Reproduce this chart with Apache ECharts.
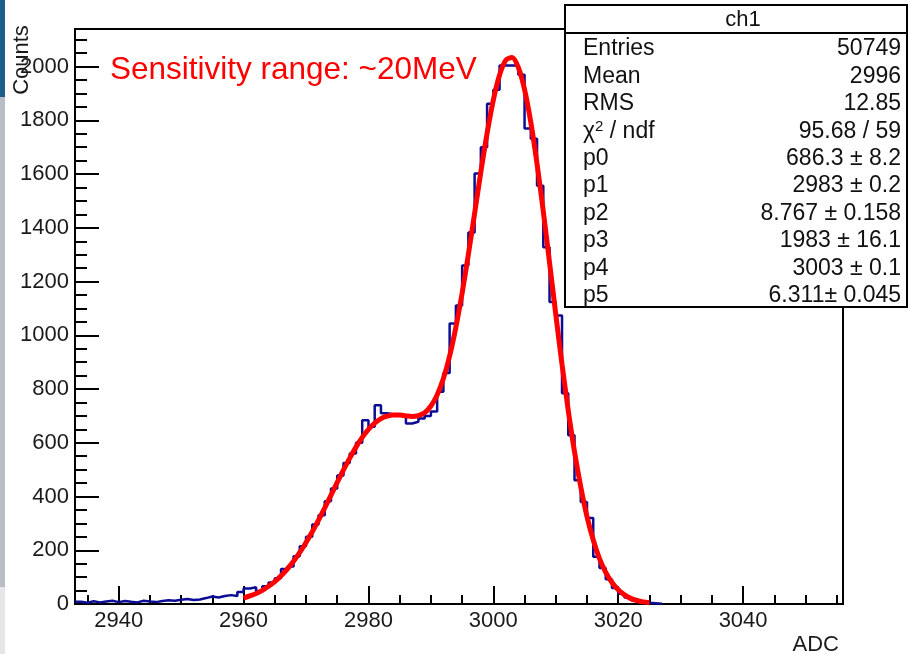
<!DOCTYPE html>
<html>
<head>
<meta charset="utf-8">
<script src="https://cdn.jsdelivr.net/npm/echarts@6/dist/echarts.min.js"></script>
<style>
  html, body { margin: 0; padding: 0; background: #fff; }
  #chart { width: 910px; height: 654px; }
</style>
</head>
<body>
<div id="chart"></div>
<script>
// histogram ch1, 1 ADC per bin, first bin starts at 2933
const binStart = 2933;
const counts = [
  8, 5, 10, 6, 9, 12, 7, 11, 8, 6, 12, 9, 7, 11, 14, 12, 16, 19, 15, 17, 22, 28, 24, 30, 33, 30, 45,
  58, 62, 48, 66, 80, 96, 130, 140, 178, 215,
  250, 296, 330, 382, 430, 478, 525, 560, 600, 684,
  660, 740, 710, 706, 704, 702, 672, 678, 690, 700,
  716, 790, 860, 1044, 1111, 1260, 1383, 1602, 1700, 1862,
  1914, 2004, 2004, 2004, 1970, 1770, 1732, 1557, 1328, 1124,
  1074, 784, 628, 461, 380, 320, 176, 134, 92, 60,
  38, 24, 14, 9, 5, 3, 1
];

// fit curve, one point per ADC from 2960
const fitStart = 2960;
const fitValues = [
  22, 30, 39, 51, 66, 83, 105, 130, 159, 192,
  229, 269, 312, 358, 405, 453, 499, 543, 584, 620,
  650, 673, 690, 699, 703, 703, 700, 698, 701, 712,
  737, 778, 839, 923, 1030, 1157, 1301, 1454, 1608, 1752,
  1876, 1969, 2024, 2034, 1997, 1915, 1793, 1638, 1461, 1271,
  1078, 892, 720, 567, 436, 325, 238, 169, 118, 80,
  53, 34, 21, 13, 8, 5
];

const xMajor = [2940, 2960, 2980, 3000, 3020, 3040];
const yMajor = [0, 200, 400, 600, 800, 1000, 1200, 1400, 1600, 1800, 2000];

const statNames = ['Entries', 'Mean', 'RMS', '{n|χ}{sup|2}{n| / ndf}', 'p0', 'p1', 'p2', 'p3', 'p4', 'p5'];
const statValues = ['50749', '2996', '12.85', '95.68 / 59', '686.3 ± 8.2', '2983 ± 0.2',
  '8.767 ± 0.158', '1983 ± 16.1', '3003 ± 0.1', '6.311± 0.045'];

const font = '"Liberation Sans", Arial, sans-serif';

const xMinor = [];
for (let v = 2935; v <= 3055; v += 5) xMinor.push(v);
const yMinor = [];
for (let v = 0; v <= 2100; v += 50) yMinor.push(v);

const histData = counts.map((c, i) => [binStart + i, c]);
histData.push([binStart + counts.length, 0]);
const fitData = fitValues.map((v, i) => [fitStart + i, v]);

const chart = echarts.init(document.getElementById('chart'));

const statText = [];
statNames.forEach((name, i) => {
  const y = 49 + i * 27.4;
  statText.push({
    type: 'text', x: 583, y: y, z: 101,
    style: {
      text: name, font: '23px ' + font, fill: '#111', verticalAlign: 'middle',
      rich: { n: { fontSize: 23, fontFamily: font }, sup: { fontSize: 15, fontFamily: font, verticalAlign: 'top', padding: [0, 0, 8, 0] } }
    }
  });
  statText.push({
    type: 'text', x: 901, y: y, z: 101,
    style: { text: statValues[i], font: '23px ' + font, fill: '#111', align: 'right', verticalAlign: 'middle' }
  });
});

chart.setOption({
  animation: false,
  backgroundColor: '#fff',
  title: {
    text: 'Sensitivity range: ~20MeV',
    left: 105, top: 49,
    textStyle: { color: '#ff0000', fontSize: 31.5, fontWeight: 'normal', fontFamily: font }
  },
  grid: {
    left: 75, top: 29, width: 768, height: 575,
    show: true, borderColor: '#000', borderWidth: 2, backgroundColor: 'transparent'
  },
  xAxis: [
    {
      type: 'value', min: binStart, max: 3056,
      splitLine: { show: false },
      axisLine: { show: true, lineStyle: { color: '#000', width: 2 } },
      axisTick: { show: true, inside: true, length: 18, customValues: xMajor, lineStyle: { color: '#000', width: 2 } },
      axisLabel: { customValues: xMajor, formatter: v => String(v), fontSize: 22, fontFamily: font, color: '#1a1a1a', margin: 6 }
    },
    {
      type: 'value', min: binStart, max: 3056, position: 'bottom',
      splitLine: { show: false },
      axisLine: { show: false },
      axisTick: { show: true, inside: true, length: 9, customValues: xMinor, lineStyle: { color: '#000', width: 2 } },
      axisLabel: { show: false }
    }
  ],
  yAxis: [
    {
      type: 'value', min: 0, max: 2140,
      splitLine: { show: false },
      axisLine: { show: true, lineStyle: { color: '#000', width: 2 } },
      axisTick: { show: true, inside: true, length: 24, customValues: yMajor, lineStyle: { color: '#000', width: 2 } },
      axisLabel: { customValues: yMajor, formatter: v => String(v), fontSize: 22, fontFamily: font, color: '#1a1a1a', margin: 6 }
    },
    {
      type: 'value', min: 0, max: 2140, position: 'left',
      splitLine: { show: false },
      axisLine: { show: false },
      axisTick: { show: true, inside: true, length: 12, customValues: yMinor, lineStyle: { color: '#000', width: 2 } },
      axisLabel: { show: false }
    }
  ],
  series: [
    {
      type: 'line', name: 'ch1', step: 'end', data: histData,
      symbol: 'none', xAxisIndex: 0, yAxisIndex: 0,
      lineStyle: { color: '#0c0c94', width: 2.5 }, z: 3
    },
    {
      type: 'line', name: 'fit', data: fitData, smooth: 0.3,
      symbol: 'none', xAxisIndex: 0, yAxisIndex: 0,
      lineStyle: { color: '#ff0000', width: 5 }, z: 4
    }
  ],
  graphic: [
    { type: 'rect', shape: { x: 0, y: 0, width: 5, height: 97 }, style: { fill: '#1b5e8a' } },
    { type: 'rect', shape: { x: 0, y: 97, width: 5, height: 490 }, style: { fill: '#b8bcc4' } },
    { type: 'rect', shape: { x: 0, y: 587, width: 5, height: 67 }, style: { fill: '#e6e6e8' } },
    {
      type: 'text', x: 22, y: 60, rotation: Math.PI / 2,
      style: { text: 'Counts', font: '22px ' + font, fill: '#1a1a1a', align: 'center', verticalAlign: 'middle' }
    },
    {
      type: 'text', x: 839, y: 645,
      style: { text: 'ADC', font: '22px ' + font, fill: '#1a1a1a', align: 'right', verticalAlign: 'middle' }
    },
    {
      type: 'rect', z: 100, shape: { x: 565, y: 5, width: 342, height: 302 },
      style: { fill: '#fff', stroke: '#000', lineWidth: 2 }
    },
    { type: 'line', z: 101, shape: { x1: 565, y1: 33, x2: 907, y2: 33 }, style: { stroke: '#000', lineWidth: 2 } },
    {
      type: 'text', x: 743, y: 20, z: 101,
      style: { text: 'ch1', font: '22px ' + font, fill: '#111', align: 'center', verticalAlign: 'middle' }
    }
  ].concat(statText)
});
</script>
</body>
</html>
